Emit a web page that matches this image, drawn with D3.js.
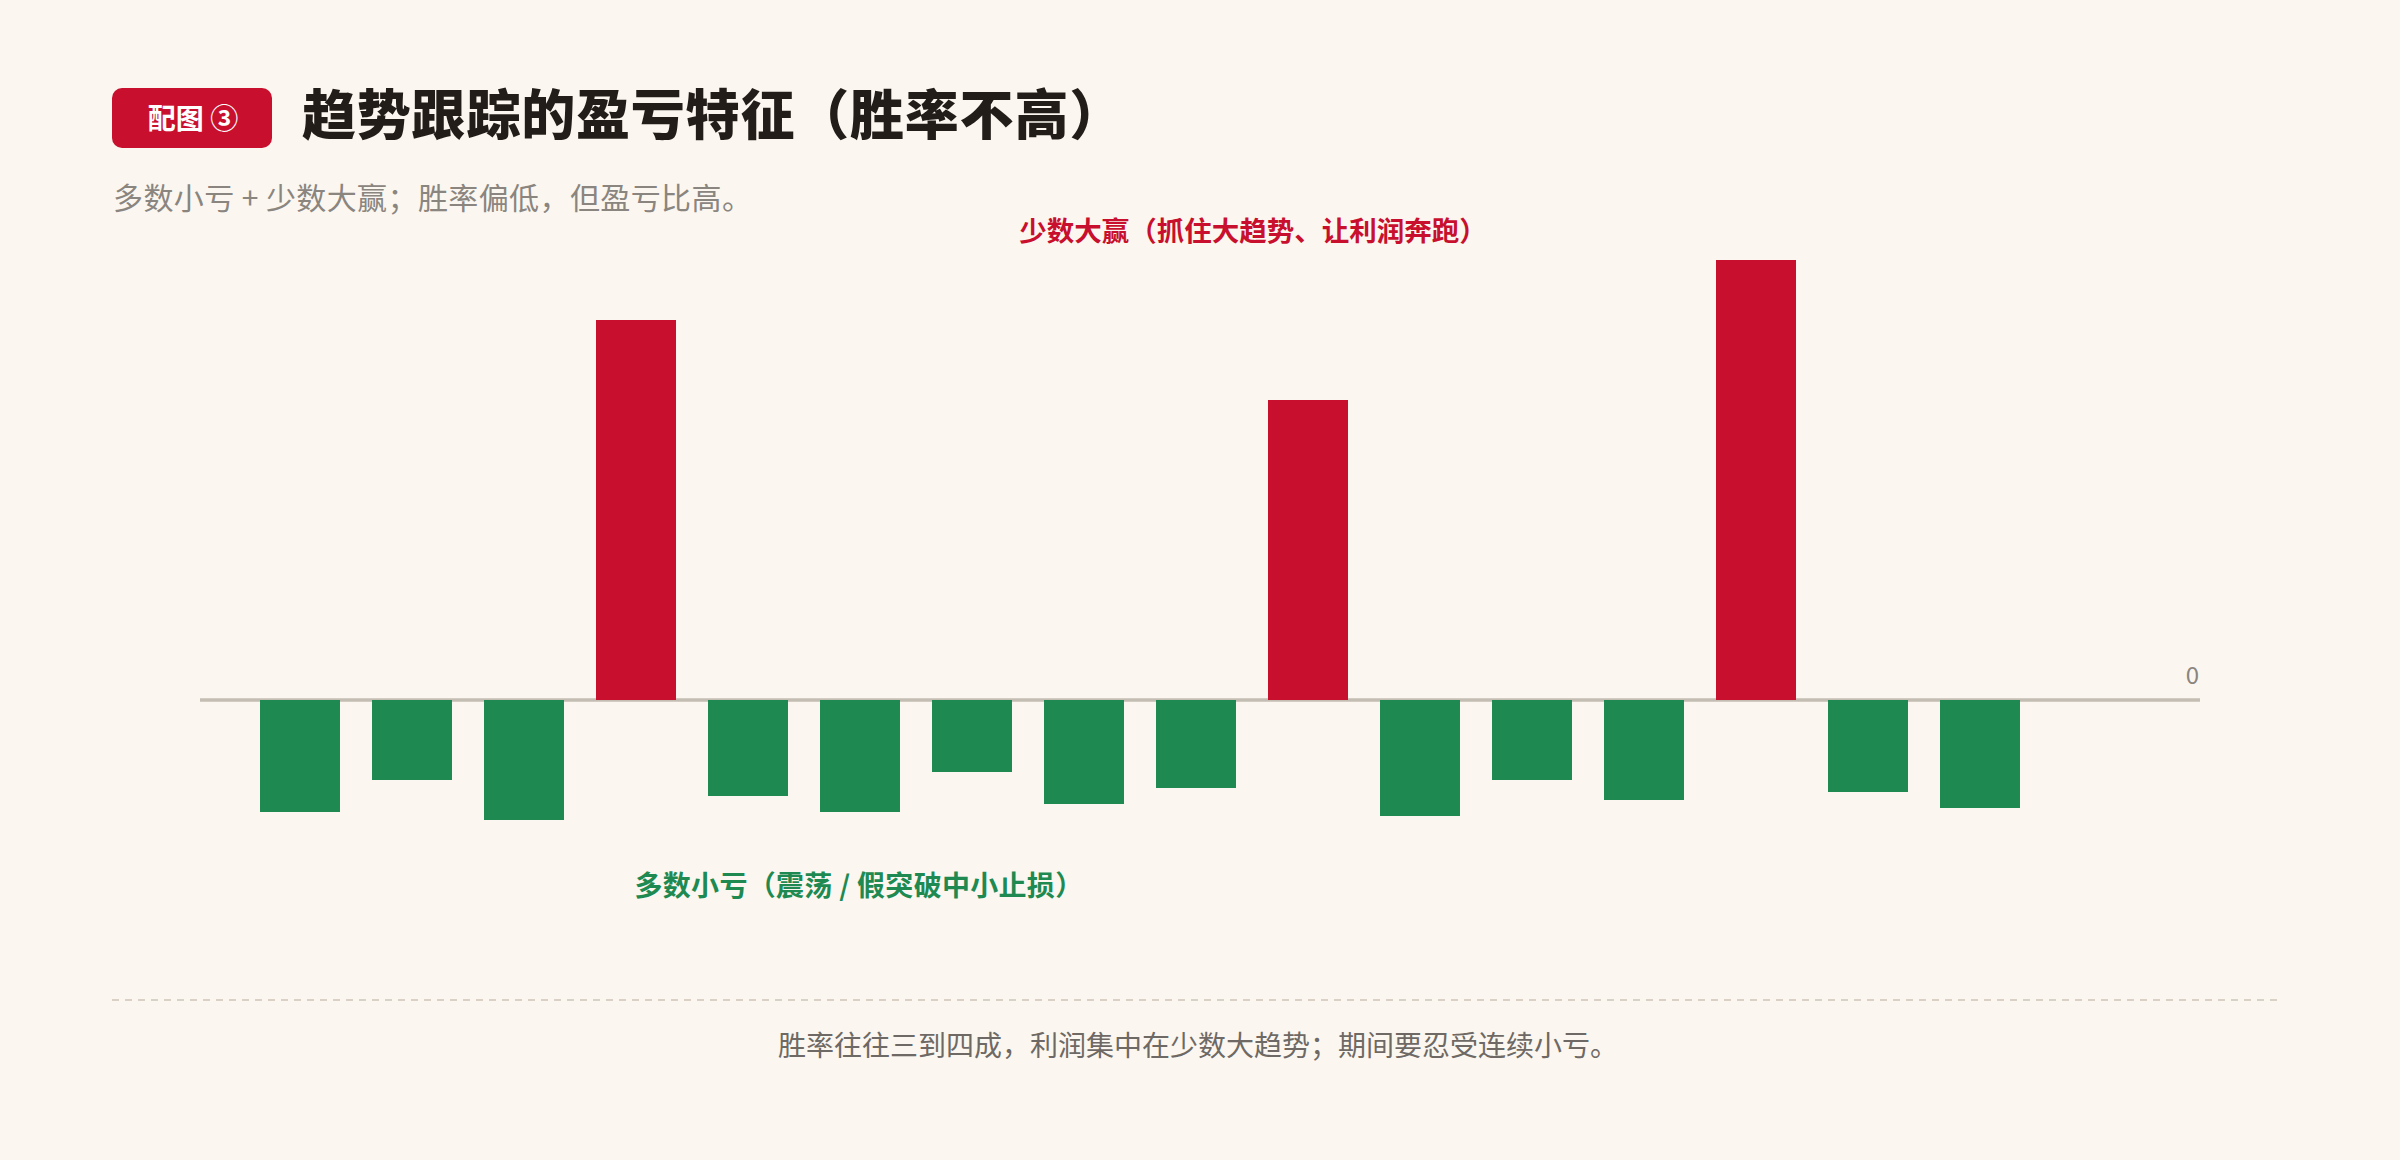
<!DOCTYPE html>
<html>
<head>
<meta charset="utf-8">
<script src="https://cdn.jsdelivr.net/npm/d3@7"></script>
<style>
  html, body { margin: 0; padding: 0; background: #fbf7f0; }
  svg { display: block; }
  text { font-family: "Noto Sans CJK SC", "Noto Sans", sans-serif; }
</style>
</head>
<body>
<svg id="chart" width="2400" height="1160"></svg>
<script>
// trade results in R-multiples
var TRADES = ['T1', 'T2', 'T3', 'T4', 'T5', 'T6', 'T7', 'T8',
              'T9', 'T10', 'T11', 'T12', 'T13', 'T14', 'T15', 'T16'];
var RESULTS = [-2.8, -2.0, -3.0, 9.5, -2.4, -2.8, -1.8, -2.6,
               -2.2, 7.5, -2.9, -2.0, -2.5, 11.0, -2.3, -2.7];
var Y_TICKS = [0];

var BADGE = '配图 ③';
var TITLE = '趋势跟踪的盈亏特征（胜率不高）';
var SUBTITLE = '多数小亏 + 少数大赢；胜率偏低，但盈亏比高。';
var WIN_NOTE = '少数大赢（抓住大趋势、让利润奔跑）';
var LOSS_NOTE = '多数小亏（震荡 / 假突破中小止损）';
var FOOTNOTE = '胜率往往三到四成，利润集中在少数大趋势；期间要忍受连续小亏。';

var RED = '#c8102e';
var GREEN = '#1e8a52';

var svg = d3.select('#chart');

// ----- Header ---------------------------------------------------------------
svg.append('rect')
    .attr('x', 112).attr('y', 88)
    .attr('width', 160).attr('height', 60)
    .attr('rx', 10)
    .attr('fill', RED);

svg.append('text')
    .attr('x', 193).attr('y', 129)
    .attr('text-anchor', 'middle')
    .attr('font-size', 28).attr('font-weight', 700)
    .attr('fill', '#fff')
    .text(BADGE);

svg.append('text')
    .attr('x', 302).attr('y', 135)
    .attr('font-size', 54).attr('font-weight', 900)
    .attr('letter-spacing', 0.8)
    .attr('fill', '#221d18')
    .text(TITLE);

svg.append('text')
    .attr('x', 113).attr('y', 209)
    .attr('font-size', 30)
    .attr('letter-spacing', 0.4)
    .attr('fill', '#8a857f')
    .text(SUBTITLE);

// ----- Scales ---------------------------------------------------------------
var x = d3.scaleBand()
    .domain(TRADES)
    .range([204, 2076])
    .paddingInner(2 / 7)
    .paddingOuter(0.5);

var y = d3.scaleLinear()
    .domain([-4, 12])
    .range([860, 220]);

// zero line + label
var axis = d3.axisRight(y)
    .tickValues(Y_TICKS)
    .tickSize(0)
    .tickFormat(d3.format('d'));

var g = svg.append('g');

g.selectAll('.zero')
    .data(Y_TICKS)
  .enter().append('line')
    .attr('class', 'zero')
    .attr('x1', 200).attr('x2', 2200)
    .attr('y1', (d) => y(d)).attr('y2', (d) => y(d))
    .attr('stroke', '#c4bdb3')
    .attr('stroke-width', 3.5);

var ax = g.append('g')
    .attr('transform', 'translate(2200,0)')
    .call(axis);
ax.select('.domain').remove();
ax.selectAll('.tick text')
    .attr('x', -1)
    .attr('dy', -17)
    .attr('text-anchor', 'end')
    .attr('font-size', 24)
    .attr('font-family', '"Noto Sans", "Noto Sans CJK SC", sans-serif')
    .attr('fill', '#8a857f');

// ----- Bars -----------------------------------------------------------------
g.selectAll('.bar')
    .data(RESULTS)
  .enter().append('rect')
    .attr('class', 'bar')
    .attr('x', (d, i) => x(TRADES[i]))
    .attr('width', x.bandwidth())
    .attr('y', (d) => y(Math.max(0, d)))
    .attr('height', (d) => Math.abs(y(d) - y(0)))
    .attr('fill', (d) => d > 0 ? RED : GREEN);

// ----- Notes ----------------------------------------------------------------
svg.append('text')
    .attr('x', 1253).attr('y', 241)
    .attr('text-anchor', 'middle')
    .attr('font-size', 27.5).attr('font-weight', 700)
    .attr('fill', RED)
    .text(WIN_NOTE);

svg.append('text')
    .attr('x', 859).attr('y', 896)
    .attr('text-anchor', 'middle')
    .attr('font-size', 28).attr('font-weight', 700)
    .attr('letter-spacing', 0.3)
    .attr('fill', GREEN)
    .text(LOSS_NOTE);

// ----- Footer ---------------------------------------------------------------
svg.append('line')
    .attr('x1', 112).attr('x2', 2282)
    .attr('y1', 1000).attr('y2', 1000)
    .attr('stroke', '#d9d1c6')
    .attr('stroke-width', 2)
    .attr('stroke-dasharray', '7 6');

svg.append('text')
    .attr('x', 1198).attr('y', 1056)
    .attr('text-anchor', 'middle')
    .attr('font-size', 28)
    .attr('fill', '#6e6964')
    .text(FOOTNOTE);
</script>
</body>
</html>
